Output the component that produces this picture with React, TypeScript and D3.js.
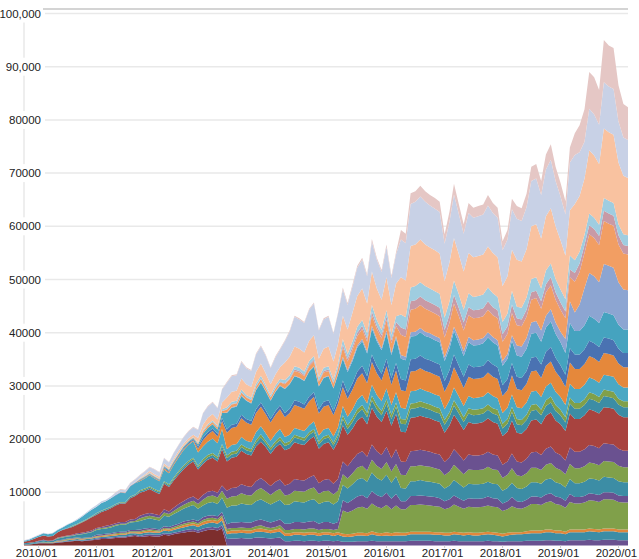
import React from "react";
import * as d3 from "d3";

// Monthly categories: 2009/10 .. 2020/03
const months: Date[] = d3.timeMonth.range(new Date(2009, 9, 1), new Date(2020, 3, 1));

// Values in hundreds
const maroon = [2,2,3,4,4,4,4,5,6,7,8,9, 8,9,10,11,12,12,13,14,15,15,17,18, 16,17,18,17,17,20,19,21,23,24,26,27, 24,27,29,30,28,32,
  0,0,0,0,0,0,0,0,0,0,0,0, 0,0,0,0,0,0,0,0,0,0,0,0, 0,0,0,0,0,0,0,0,0,0,0,0, 0,0,0,0,0,0,0,0,0,0,0,0, 0,0,0,0,0,0,0,0,0,0,0,0, 0,0,0,0,0,0,0,0,0,0,0,0, 0,0,0,0,0,0,0,0,0,0,0,0];
const purpleBase = [0,0,0,0,1,0,0,1,1,1,1,1, 1,1,1,2,2,2,2,2,2,2,2,2, 2,3,3,3,3,3,3,3,3,4,4,4, 4,5,5,5,5,6,
  12,13,13,14,13,13,15,15,14,13,14,15, 8,8,9,9,8,9,9,8,9,9,8,9, 7,7,7,8,8,8,9,8,8,8,8,8, 8,8,9,9,9,9,9,8,8,8,8,9, 8,8,8,8,8,8,9,8,8,7,8,8, 8,8,9,9,9,9,10,10,9,9,8,10, 10,10,10,11,10,10,11,11,11,10,10,10];
const tealBase = [1,1,1,1,1,1,1,1,1,2,2,2, 2,2,2,2,2,3,3,3,3,3,4,3, 4,4,4,4,4,5,5,5,6,6,6,7, 7,7,8,8,8,9,
  9,10,10,10,10,10,11,11,11,10,11,11, 10,10,11,11,11,11,11,10,11,11,10,11, 10,9,10,11,11,10,12,11,10,11,10,11, 11,11,12,12,12,12,12,12,12,11,11,12, 12,11,12,11,11,12,12,12,11,10,11,12, 13,13,13,14,14,14,15,15,14,14,13,15, 15,15,15,16,16,15,16,16,16,15,15,15];
const orangeBase = [0,0,0,0,0,0,1,1,1,1,1,1, 1,1,1,2,2,2,2,2,2,2,2,2, 3,3,3,3,2,3,3,3,3,4,4,4, 4,5,5,5,5,6,
  5,5,5,5,5,5,5,6,5,5,5,6, 5,5,5,5,5,5,5,5,5,5,5,5, 5,5,5,5,5,5,6,5,5,6,5,6, 5,5,5,5,5,5,5,5,5,5,5,5, 5,5,5,5,5,5,5,5,5,5,5,5, 4,4,5,5,5,5,5,5,5,5,5,5, 5,5,5,5,5,5,5,5,5,5,5,5];
const greenBig = [0,0,0,0,1,1,0,1,1,1,1,1, 1,1,1,1,1,1,1,2,2,2,2,2, 2,2,2,2,2,2,2,3,3,3,3,3, 3,4,4,4,4,4,
  5,5,5,5,5,5,5,6,5,5,5,6, 6,6,6,6,6,7,7,6,6,6,6,6, 44,41,44,47,49,46,52,49,47,51,45,50, 44,44,50,50,51,50,49,49,48,44,47,51, 48,45,48,48,48,48,49,48,48,43,44,49, 45,44,46,50,50,48,51,53,50,48,45,52, 49,49,51,53,53,52,55,55,54,52,51,51];
const purple2 = [0,0,0,1,0,0,0,1,1,1,1,1, 1,1,1,2,2,2,2,2,2,2,2,2, 3,3,3,3,2,3,3,3,3,4,4,4, 4,5,5,5,5,6,
  9,10,10,10,10,10,11,11,11,10,11,11, 12,12,13,13,13,13,14,12,13,13,12,13, 19,18,20,21,22,20,23,22,21,23,20,22, 15,15,17,17,17,17,17,17,16,15,16,17, 16,15,16,16,16,16,17,16,16,14,15,17, 13,13,13,14,14,14,15,15,14,14,13,15, 12,12,12,13,13,13,13,13,13,12,12,12];
const teal2 = [1,2,2,2,3,2,3,3,4,4,4,5, 7,8,9,9,10,10,11,12,13,13,14,15, 16,17,18,17,17,20,19,21,23,24,26,27, 23,22,24,25,23,27,
  31,32,32,35,34,33,36,38,36,34,36,37, 35,36,39,38,38,40,41,37,38,39,36,39, 29,27,29,32,32,31,35,32,31,34,30,33, 25,24,28,28,29,28,28,27,27,24,26,29, 27,25,27,27,27,27,28,27,27,24,25,27, 25,24,25,27,27,26,28,28,27,26,25,28, 26,26,27,28,28,27,29,28,28,27,26,26];
const green4 = [0,0,0,0,0,0,0,1,1,1,1,1, 1,1,1,2,2,2,2,2,2,2,2,2, 5,5,5,5,5,6,5,6,7,7,8,8, 9,11,12,12,12,13,
  17,17,18,19,18,18,20,21,20,18,20,20, 18,19,20,20,20,21,22,19,20,20,19,20, 20,19,21,22,23,21,24,23,22,24,21,23, 25,25,28,28,28,28,28,27,27,25,26,29, 27,25,27,27,27,27,28,27,27,24,25,27, 24,24,25,27,27,26,28,29,27,26,25,28, 28,28,29,30,29,29,30,30,30,29,28,28];
const purple4 = [0,0,0,1,1,1,1,1,1,1,1,2, 2,2,2,2,2,3,3,3,3,3,4,4, 5,5,5,5,5,6,5,6,7,7,8,8, 8,9,9,9,9,10,
  15,16,16,17,17,16,18,19,18,17,18,18, 19,20,22,21,21,22,23,20,21,22,20,22, 24,23,25,26,27,26,29,27,26,28,25,28, 25,25,28,29,29,29,28,28,28,25,27,29, 28,26,28,27,27,28,28,28,27,25,25,28, 26,26,27,29,30,28,30,31,29,28,26,31, 31,31,32,33,33,32,33,33,33,32,31,31];
const red = [3,4,6,7,8,8,8,10,12,13,15,16, 19,22,25,25,28,29,31,33,35,35,40,43, 43,43,45,42,40,48,46,51,55,60,63,66, 57,58,60,62,59,68,
  55,57,58,63,60,59,65,68,65,60,64,67, 66,67,69,68,67,71,73,65,68,69,64,70, 68,59,59,63,65,61,69,65,62,68,61,66, 56,56,63,63,64,63,63,62,61,55,60,65, 61,57,61,60,61,61,63,61,60,54,56,62, 54,54,56,60,61,58,62,64,60,58,55,64, 62,62,64,67,66,65,68,68,67,64,63,63];
const teal5 = [0,0,0,0,0,0,0,0,1,1,1,1, 1,1,1,2,2,2,2,2,2,2,2,2, 3,3,3,3,3,3,3,3,4,4,4,4, 4,5,5,5,5,6,
  6,6,6,7,7,7,7,8,7,7,7,7, 8,8,9,9,8,9,9,8,9,9,8,9, 12,11,12,13,14,13,14,14,13,14,13,14, 15,15,17,17,17,17,16,16,16,15,16,17, 16,15,16,16,16,16,16,16,16,14,15,16, 16,16,17,18,18,17,18,19,18,17,16,19, 19,19,19,20,20,20,21,20,20,19,19,19];
const green5 = [0,0,0,0,0,0,0,0,0,0,1,1, 1,1,1,1,1,1,1,1,1,1,1,1, 2,2,2,2,2,2,2,3,3,3,3,3, 3,4,4,4,4,4,
  5,5,5,5,5,5,5,6,5,5,5,6, 5,5,5,5,5,5,5,5,5,5,5,5, 7,7,7,8,8,8,9,8,8,8,8,8, 9,9,10,10,10,10,10,10,10,9,9,10, 10,9,10,10,10,10,10,10,10,9,9,10, 10,10,10,11,11,10,11,11,11,10,10,11, 11,11,11,12,12,11,12,12,12,11,11,11];
const cyan = [2,2,3,3,4,4,5,4,4,6,6,7, 9,11,12,12,14,14,16,16,17,16,19,21, 17,19,21,20,19,22,21,24,26,29,30,31, 25,24,25,27,25,28,
  12,13,13,14,13,13,15,15,14,13,14,15, 12,12,13,13,13,13,14,12,13,13,12,13, 17,16,17,18,19,18,20,19,18,20,18,19, 21,20,23,23,24,23,23,23,23,20,22,24, 22,21,23,22,22,22,23,23,22,20,21,23, 22,22,23,25,25,24,26,26,25,24,23,26, 26,26,27,28,27,27,28,28,28,27,26,26];
const orangeBig = [0,0,0,0,0,0,0,0,0,0,0,0, 0,0,0,0,0,0,0,0,0,0,0,0, 1,1,1,1,1,2,2,2,2,2,2,2, 7,12,13,14,13,15,
  31,32,32,35,34,33,36,37,36,34,36,37, 37,41,43,43,42,45,46,41,43,43,40,44, 36,34,37,40,41,38,43,41,39,42,38,41, 33,33,37,37,38,37,37,37,36,33,35,38, 36,34,36,36,36,36,37,36,36,32,33,36, 34,34,35,38,38,36,39,40,38,36,34,40, 38,38,39,40,40,39,41,41,40,39,38,38];
const blue2 = [0,0,0,0,0,0,0,0,0,0,0,0, 0,0,0,0,0,0,0,1,1,1,1,1, 1,1,1,1,1,2,2,2,2,2,2,2, 4,5,5,5,5,6,
  6,6,6,7,7,7,7,8,7,7,7,7, 8,8,9,9,8,9,9,8,9,9,8,9, 12,11,12,13,14,13,14,14,13,14,13,14, 21,20,23,23,24,23,23,23,23,20,22,24, 22,21,23,22,22,22,23,23,22,20,21,23, 23,23,24,26,26,25,26,27,26,24,23,27, 27,27,28,29,28,28,29,29,29,28,27,27];
const tealBig = [0,0,0,0,0,0,0,0,0,0,0,0, 0,0,0,0,0,0,0,0,0,0,0,0, 1,1,1,1,1,2,2,2,2,2,2,2, 4,7,8,8,8,9,
  31,32,32,35,34,33,36,37,36,34,36,37, 45,46,45,45,44,47,48,43,45,45,42,46, 41,39,42,45,46,43,49,46,44,48,43,47, 38,38,43,43,44,43,43,42,42,38,41,44, 42,39,42,41,41,42,43,42,41,37,38,42, 40,40,42,45,45,43,46,48,45,43,41,47, 44,44,45,47,46,45,48,47,47,45,44,44];
const midBlue = [0,0,0,0,0,0,0,0,0,0,0,0, 0,0,0,0,0,0,0,0,0,0,0,0, 0,0,0,0,0,0,0,0,0,0,0,0, 0,0,0,0,0,0,
  1,1,1,1,1,1,1,1,1,1,1,1, 1,1,1,1,1,1,1,1,1,1,1,1, 4,4,4,4,4,4,5,4,4,5,4,4, 7,7,8,8,8,8,8,8,8,7,8,8, 10,9,10,10,10,10,10,10,10,9,9,10, 19,19,20,21,22,21,22,23,21,20,26,41, 35,50,70,80,80,77,90,90,89,80,75,74];
const lightOrange = [0,0,0,0,0,0,0,0,0,0,0,0, 0,0,0,0,0,0,0,0,0,0,0,0, 1,1,1,1,1,1,1,1,1,1,1,1, 2,4,4,4,4,4,
  5,5,5,5,5,5,5,6,5,5,5,6, 8,8,9,9,8,9,9,8,9,9,8,9, 17,16,17,18,19,18,20,19,18,20,18,19, 38,37,42,43,43,43,42,42,41,37,40,44, 41,39,41,41,41,41,42,41,41,36,38,42, 38,38,40,43,43,41,44,45,43,41,39,45, 58,61,66,73,72,70,81,79,79,71,68,67];
const mauve = [0,0,0,0,0,0,0,0,0,0,0,0, 0,0,0,0,0,0,0,0,0,0,0,0, 0,0,0,0,0,0,0,0,0,0,0,0, 0,0,0,0,0,0,
  1,1,1,1,1,1,1,1,1,1,1,1, 2,2,3,3,3,3,3,2,3,3,2,3, 6,5,6,6,6,6,7,6,6,7,6,7, 14,14,16,16,16,16,16,16,16,14,15,16, 15,15,15,15,15,15,16,15,15,14,14,16, 13,13,13,14,14,14,15,15,14,14,13,15, 16,16,15,17,17,17,19,19,19,17,16,16];
const lightCyan = [0,0,0,0,0,0,0,0,0,0,0,0, 0,0,0,0,0,0,0,0,0,0,0,0, 1,1,1,1,1,1,1,1,1,1,1,1, 2,2,3,3,3,3,
  4,4,4,5,4,4,5,5,5,4,5,5, 6,6,6,6,6,7,7,6,6,6,6,7, 10,9,10,11,11,10,12,11,10,11,10,11, 24,23,26,27,27,27,26,26,26,23,25,27, 26,24,26,25,26,26,26,26,25,23,24,26, 22,22,23,25,25,24,26,26,25,24,23,26, 24,22,19,22,21,21,24,24,24,21,20,20];
const peach = [0,0,0,0,0,0,0,0,0,0,0,0, 0,0,0,0,0,0,0,0,1,1,1,1, 1,2,3,3,3,3,3,3,4,4,4,4, 8,11,12,12,12,13,
  18,19,19,21,20,20,22,23,22,20,21,22, 33,35,37,36,36,38,39,35,36,37,34,37, 44,46,54,58,59,56,63,59,57,62,56,61, 70,69,78,78,80,78,77,77,76,69,74,80, 75,72,76,75,75,75,77,76,75,68,70,77, 88,87,91,99,100,94,102,104,99,93,82,85, 106,105,106,119,117,114,131,129,128,116,110,108];
const lavender = [1,1,1,1,1,1,1,1,1,1,1,2, 2,2,3,3,3,3,3,4,4,4,4,5, 5,6,7,9,8,10,9,11,11,12,13,14, 15,21,21,22,21,24,
  28,29,29,31,30,30,33,32,33,30,32,33, 40,47,56,55,55,58,60,53,55,56,52,57, 49,46,49,53,54,51,56,54,52,57,51,55, 71,70,79,80,81,80,79,78,78,70,76,82, 75,71,75,74,75,75,77,75,74,67,69,76, 77,76,79,85,86,82,88,91,85,82,77,90, 92,82,69,78,77,74,87,86,86,77,72,71];
const pink = [0,0,0,0,0,0,0,0,0,0,0,0, 0,0,0,0,0,0,0,1,1,1,1,1, 1,1,1,1,1,1,1,1,1,1,1,1, 1,1,1,1,1,1,
  2,2,2,2,2,2,2,2,2,2,2,2, 2,2,2,2,2,2,2,2,2,2,2,2, 4,4,4,4,4,4,5,4,4,5,4,4, 18,18,20,20,20,20,20,20,19,18,19,20, 19,18,19,19,19,19,20,19,19,17,18,20, 24,24,25,27,27,26,28,29,27,26,25,28, 41,51,61,69,70,65,79,77,77,68,63,62];

const seriesValues = [maroon, purpleBase, tealBase, orangeBase, greenBig, purple2, teal2, green4, purple4, red,
  teal5, green5, cyan, orangeBig, blue2, tealBig, midBlue, lightOrange, mauve, lightCyan, peach, lavender, pink];
const seriesKeys = ["maroon","purpleBase","tealBase","orangeBase","greenBig","purple2","teal2","green4","purple4","red",
  "teal5","green5","cyan","orangeBig","blue2","tealBig","midBlue","lightOrange","mauve","lightCyan","peach","lavender","pink"];
const seriesColors = ["#7d2e2d","#6a5190","#3c8da5","#e0873c","#80a04a","#6a5190","#3c8da5","#80a04a","#6a5190","#a8433f",
  "#3c8da5","#80a04a","#4aa8c4","#e5883b","#4a72b2","#45a3bf","#8ca5d2","#f29e63","#c89aa6","#9fcde0","#f9c2a0","#c8d1e6","#e5c7c5"];
const UNIT = 100;

const yTicks = [10000, 20000, 30000, 40000, 50000, 60000, 70000, 80000, 90000, 100000];
const yTickLabels = ["10000","20000","30000","40000","50000","60000","70000","80000","90,000","100,000"];
const xTickYears = [2010, 2011, 2012, 2013, 2014, 2015, 2016, 2017, 2018, 2019, 2020];
const xTickLabels = ["2010/01","2011/01","2012/01","2013/01","2014/01","2015/01","2016/01","2017/01","2018/01","2019/01","2020/01"];

export default function App() {
  const W = 639, H = 559;
  const x = d3.scaleTime().domain([months[0], months[months.length - 1]]).range([24, 628]);
  const y = d3.scaleLinear().domain([0, 100000]).range([545.5, 13.5]);
  const table = months.map((date, i) => {
    const row: any = { date };
    seriesKeys.forEach((k, j) => { row[k] = (seriesValues[j][i] ?? 0) * UNIT; });
    return row;
  });
  const stacked = d3.stack<any>().keys(seriesKeys)(table);
  const area = d3.area<any>()
    .x((d: any) => x(d.data.date))
    .y0((d: any) => y(d[0]))
    .y1((d: any) => y(d[1]));
  const bad = seriesValues.map((s, i) => (s.length !== months.length ? `${seriesKeys[i]}:${s.length}` : "")).filter(Boolean);
  const font = "'Liberation Sans', Arial, Helvetica, sans-serif";
  const gridColor = "#e9e9e9";

  return (
    <svg width={W} height={H} style={{ position: "absolute", left: 0, top: 0, background: "#fff" }} fontFamily={font}>
      <line x1={24} x2={24} y1={9} y2={545} stroke={gridColor} strokeWidth={1.5} />
      <line x1={43} x2={628} y1={9} y2={9} stroke="#d4d4d4" strokeWidth={2} />
      {yTicks.map((t) => (
        <line key={"g" + t} x1={45} x2={628} y1={y(t)} y2={y(t)} stroke={gridColor} strokeWidth={1.5} />
      ))}
      {stacked.map((s, i) => (
        <path key={seriesKeys[i]} d={area(s as any) || ""} fill={seriesColors[i]} />
      ))}
      {yTicks.map((t, i) => (
        <g key={"l" + t}>
          <rect x={0} y={y(t) - 9} width={43} height={18} fill="#fff" />
          <text x={41} y={y(t)} dy="0.35em" textAnchor="end" fontSize={11.5} fill="#222">{yTickLabels[i]}</text>
        </g>
      ))}
      {xTickYears.map((yr, i) => {
        const xx = x(new Date(yr, 0, 1));
        return (
          <g key={"x" + yr}>
            <line x1={xx} x2={xx} y1={545.5} y2={548} stroke="#cccccc" strokeWidth={1} />
            <text x={xx - 2} y={557} textAnchor="middle" fontSize={11.5} fill="#222">{xTickLabels[i]}</text>
          </g>
        );
      })}
      {bad.length > 0 && <text x={100} y={100} fill="red" fontSize={14}>{bad.join(" ")}</text>}
    </svg>
  );
}
